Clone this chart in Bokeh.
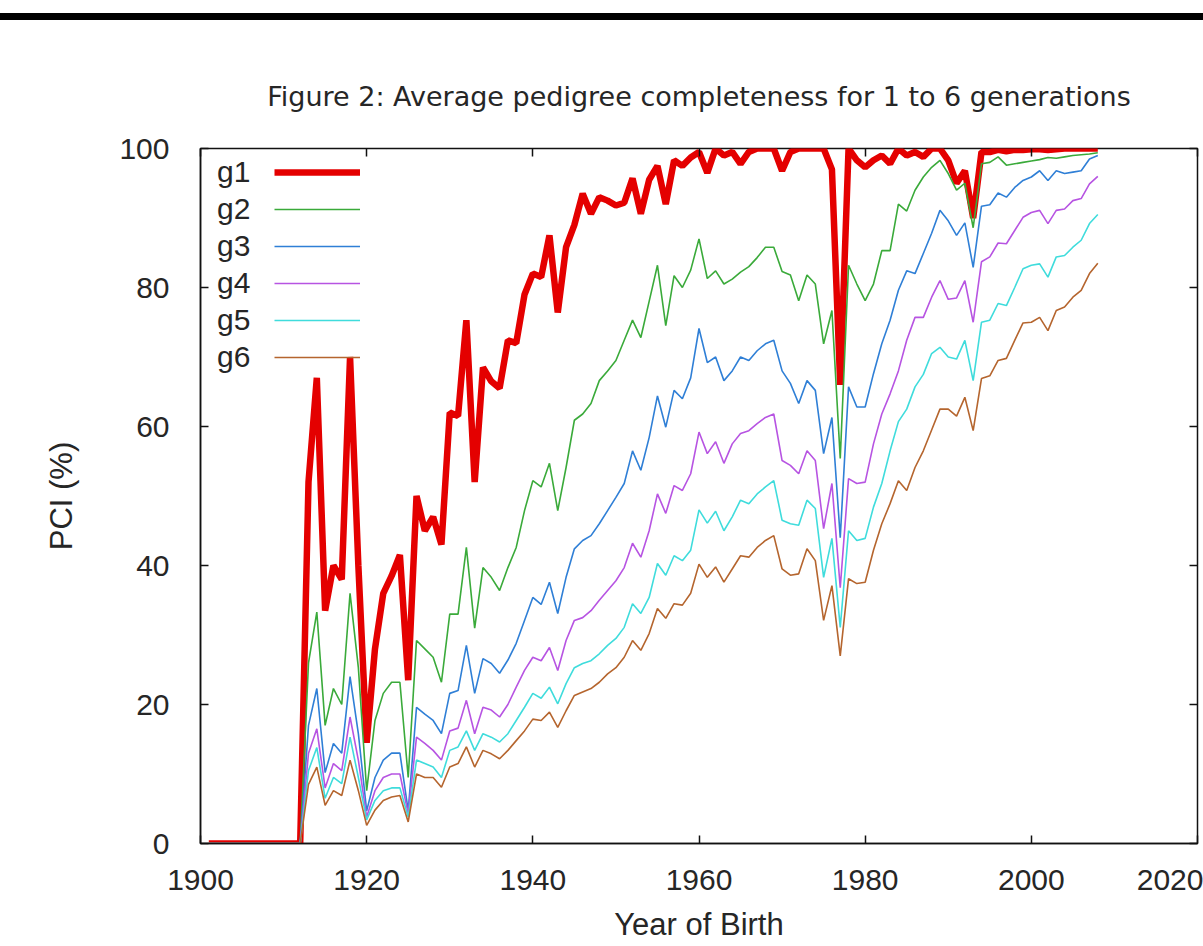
from bokeh.plotting import figure
from bokeh.models import (Range1d, FixedTicker, LinearAxis, Legend, LegendItem,
                          Div, ColumnDataSource, CustomJSTickFormatter)
from bokeh.layouts import column
from bokeh.embed import file_html
from bokeh.resources import INLINE

# ---------------- data ----------------
TITLE = "Figure 2: Average pedigree completeness for 1 to 6 generations"
X_LABEL = "Year of Birth"
Y_LABEL = "PCI (%)"
SERIES = ["g1", "g2", "g3", "g4", "g5", "g6"]
X_TICKS = [1900, 1920, 1940, 1960, 1980, 2000, 2020]
Y_TICKS = [0, 20, 40, 60, 80, 100]

years = list(range(1901, 2009))

zeros_1901_1911 = [0, 0, 0, 0, 0, 0, 0, 0, 0, 0, 0]

g1 = zeros_1901_1911 + [
    0, 52, 67, 33.5, 40, 38, 70, 40,
    14.5, 28, 36, 38.5, 41.5, 23.5, 50, 45, 47, 43,
    62, 61.5, 75.3, 52, 68.5, 66.5, 65.5, 72.4, 72, 79,
    82, 81.5, 87.5, 76.4, 85.8, 89, 93.5, 90.6, 93, 92.5,
    91.8, 92.2, 95.7, 90.6, 95.5, 97.5, 92, 98.3, 97.5, 98.7,
    99.5, 96.5, 100, 99, 99.5, 97.8, 99.5, 100, 100, 100,
    96.8, 99.5, 100, 100, 100, 100, 97, 66, 100, 98.3,
    97.3, 98.3, 99, 97.8, 100, 99, 99.5, 98.8, 100, 100,
    98.3, 95, 96.8, 90, 99.5, 99.5, 99.8, 99.6, 99.8, 99.8,
    99.9, 99.9, 99.8, 99.9, 100, 100, 100, 100, 100]

g2 = zeros_1901_1911 + [
    0, 26, 33.3, 17, 22.3, 20, 36, 25.3,
    7.6, 17.7, 21.6, 23.2, 23.2, 9.5, 29.2, 28, 26.8, 23.2,
    33, 33, 42.6, 31, 39.7, 38.3, 36.4, 39.7, 42.6, 47.9,
    52.2, 51.3, 54.7, 47.9, 54.1, 60.9, 61.8, 63.3, 66.6, 68,
    69.5, 72.4, 75.3, 72.8, 78, 83.2, 74.5, 81.7, 80, 82.5,
    87, 81.3, 82.4, 80.5, 81.2, 82.2, 83, 84.3, 85.8, 85.8,
    82.3, 81.8, 78.1, 81.8, 80.5, 71.9, 76.7, 55.4, 83.2, 80.5,
    78.1, 80.5, 85.3, 85.3, 92, 91, 94, 95.9, 97.3, 98.3,
    96.4, 94, 95, 88.6, 97.8, 98, 98.8, 97.6, 97.8, 98,
    98.2, 98.4, 98.7, 98.6, 98.8, 99, 99.1, 99.2, 99.4]

g3 = zeros_1901_1911 + [
    0, 17, 22.3, 10.2, 14.4, 13, 24, 15.8,
    4.7, 9.5, 12, 13, 13, 4.7, 19.6, 18.6, 17.7, 15.8,
    21.6, 22, 28.5, 21.6, 26.6, 25.9, 24.5, 26.4, 28.8, 32.1,
    35.4, 34.4, 37.6, 33.1, 38.3, 42.4, 43.6, 44.3, 46, 47.9,
    49.8, 51.8, 56.5, 53.7, 58.4, 64.4, 59.9, 65.2, 64, 67,
    74.1, 69.2, 70, 66.6, 68, 70, 69.5, 70.9, 71.9, 72.4,
    68, 66.2, 63.3, 66.6, 65.2, 56.1, 61.3, 44, 65.7, 62.8,
    62.8, 67.6, 71.9, 75.3, 79.6, 82.4, 82, 84.9, 87.8, 91.1,
    89.6, 87.5, 89.3, 82.9, 91.7, 91.9, 93.6, 93, 94.4, 95.4,
    95.9, 96.8, 95.4, 96.8, 96.4, 96.6, 96.8, 98.5, 99]

g4 = zeros_1901_1911 + [
    0, 13, 16.5, 8, 11.5, 10.5, 18.2, 12,
    3.8, 7.6, 9.5, 10, 10, 4.3, 15.3, 14.4, 13.4, 12,
    16.2, 16.6, 20.6, 15.8, 19.6, 19.2, 18.2, 20, 22.5, 24.9,
    26.8, 26.3, 28.2, 24.9, 29.2, 32.1, 32.5, 33.5, 35, 36.4,
    37.8, 39.7, 43.2, 41.2, 45, 50.3, 47.5, 51.5, 50.8, 53.2,
    59.2, 56.1, 57.8, 54.7, 57.5, 59, 59.4, 60.4, 61.3, 61.8,
    55.1, 54.4, 53.2, 56.5, 55.1, 45.3, 51.8, 36.8, 52.5, 51.8,
    52, 57.5, 61.8, 64.7, 68, 72.4, 75.7, 75.7, 78.6, 81,
    78.3, 78.5, 81, 75, 83.7, 84.4, 86.4, 86.3, 88.2, 90.1,
    90.8, 91.1, 89.2, 91.1, 91.3, 92.5, 92.8, 94.9, 96]

g5 = zeros_1901_1911 + [
    0, 10.5, 13.8, 6.5, 9.5, 8.6, 15.3, 9.5,
    3.4, 6.2, 7.6, 8, 8, 3.8, 12, 11.5, 11, 9.5,
    13.4, 13.9, 16.2, 13.4, 15.8, 15.3, 14.6, 15.8, 17.7, 19.6,
    21.6, 20.9, 22.5, 20.1, 23, 25.3, 25.9, 26.3, 27.3, 28.5,
    29.5, 31.1, 34.5, 33.1, 35.4, 40.3, 38.6, 41.4, 40.7, 42.2,
    48, 46.1, 47.8, 45, 47, 49.4, 48.9, 50.3, 51.3, 52.2,
    46.5, 46, 45.8, 49.4, 48.2, 38.3, 43.9, 31.1, 45, 43.6,
    43.9, 48.4, 51.8, 56.5, 60.7, 62.5, 65.7, 67.5, 70.5, 71.4,
    70, 69.7, 72.4, 66.6, 75, 75.3, 77.7, 77.4, 80, 82.7,
    83.2, 83.4, 81.5, 84.4, 84.6, 85.8, 86.8, 89.2, 90.5]

g6 = zeros_1901_1911 + [
    0, 8.5, 11, 5.5, 7.6, 6.9, 12, 7.6,
    2.6, 4.8, 6.2, 6.7, 6.9, 3.1, 10, 9.5, 9.5, 8.1,
    11, 11.5, 13.9, 11, 13.4, 12.9, 12.2, 13.4, 14.8, 16.2,
    17.9, 17.7, 18.9, 16.7, 19.1, 21.3, 21.8, 22.3, 23.2, 24.4,
    25.3, 26.8, 29.2, 27.8, 30.2, 33.8, 32.4, 34.5, 34.3, 36,
    40.2, 38.3, 39.8, 37.6, 39.5, 41.4, 41.2, 42.6, 43.6, 44.3,
    39.5, 38.6, 38.8, 42.4, 40.7, 32.1, 37.1, 27, 38.1, 37.4,
    37.6, 42.2, 46, 48.9, 52.2, 50.8, 54.1, 56.5, 59.5, 62.5,
    62.5, 61.5, 64.2, 59.4, 66.9, 67.3, 69.5, 69.8, 72.4, 74.9,
    75, 75.7, 73.8, 76.7, 77.2, 78.6, 79.6, 82, 83.5]

for s in (g1, g2, g3, g4, g5, g6):
    assert len(s) == len(years)

# ---------------- styling ----------------
FONT = "Liberation Sans"
TITLE_FONT = "DejaVu Sans"
TXT = "#262626"
COLORS = ["#e40000", "#3aaa3a", "#2f7fd6", "#b754e2", "#3fdcdc", "#b5652e"]
WIDTHS = [6.5, 1.6, 1.6, 1.6, 1.6, 1.6]

src = ColumnDataSource(dict(year=years, g1=g1, g2=g2, g3=g3, g4=g4, g5=g5, g6=g6))

p = figure(width=1203, height=925, output_backend="svg", toolbar_location=None,
           x_range=Range1d(1900, 2020), y_range=Range1d(0, 100),
           min_border_left=200, min_border_right=6, min_border_top=128,
           min_border_bottom=102, x_axis_label=X_LABEL, y_axis_label=Y_LABEL)
p.grid.visible = False
p.background_fill_color = "white"
p.border_fill_color = "white"
p.outline_line_color = "#111111"
p.outline_line_width = 1.5

p.title.text = TITLE
p.title.align = "center"
p.title.text_font = TITLE_FONT
p.title.text_font_size = "27px"
p.title.text_font_style = "normal"
p.title.text_color = TXT
p.title.standoff = 74

renderers = []
for name, c, w in zip(SERIES, COLORS, WIDTHS):
    r = p.line("year", name, source=src, line_color=c, line_width=w)
    renderers.append(r)


def style_axis(ax, ticks):
    ax.ticker = FixedTicker(ticks=ticks)
    ax.major_tick_in = 8
    ax.major_tick_out = 0
    ax.major_tick_line_color = "#111111"
    ax.major_tick_line_width = 1.5
    ax.minor_tick_line_color = None
    ax.axis_line_color = "#111111"
    ax.axis_line_width = 1.5


xa = p.xaxis[0]
style_axis(xa, X_TICKS)
xa.major_label_text_font = FONT
xa.major_label_text_font_size = "30px"
xa.major_label_text_color = TXT
xa.major_label_standoff = 26
xa.axis_label_text_font = FONT
xa.axis_label_text_font_size = "31px"
xa.axis_label_text_font_style = "normal"
xa.axis_label_text_color = TXT
xa.axis_label_standoff = 14

ya = p.yaxis[0]
style_axis(ya, Y_TICKS)
ya.major_label_text_font = FONT
ya.major_label_text_font_size = "30px"
ya.major_label_text_color = TXT
ya.major_label_standoff = 31
ya.axis_label_text_font = FONT
ya.axis_label_text_font_size = "31px"
ya.axis_label_text_font_style = "normal"
ya.axis_label_text_color = TXT
ya.axis_label_standoff = 37


def tick_only_axis():
    ax = LinearAxis(formatter=CustomJSTickFormatter(code="return ''"))
    ax.major_label_text_color = None
    ax.major_label_text_font_size = "1px"
    ax.major_label_standoff = 0
    return ax


top_ax = tick_only_axis()
style_axis(top_ax, X_TICKS)
top_ax.axis_line_color = None
p.add_layout(top_ax, "above")

right_ax = tick_only_axis()
style_axis(right_ax, Y_TICKS)
right_ax.axis_line_color = None
p.add_layout(right_ax, "right")

# legend: gnuplot style, names on the left and line samples on the right
common = dict(padding=0, margin=0, spacing=3, glyph_height=34, label_height=34,
              border_line_color=None, background_fill_alpha=0,
              label_text_font=FONT, label_text_font_size="30px")
legend_names = Legend(
    items=[LegendItem(label=n, renderers=[r]) for n, r in zip(SERIES, renderers)],
    location=(17, 469), glyph_width=0, label_standoff=0,
    label_text_color=TXT, **common)
legend_lines = Legend(
    items=[LegendItem(label=n, renderers=[r]) for n, r in zip(SERIES, renderers)],
    location=(74, 469), glyph_width=86, label_standoff=0,
    label_text_color=None, **common)
p.add_layout(legend_names)
p.add_layout(legend_lines)

bar = Div(text="", width=1203, height=7, margin=(13, 0, 0, 0),
          styles={"background-color": "#000000"})

layout = column(bar, p)
open("out.html", "w").write(file_html(layout, INLINE))
